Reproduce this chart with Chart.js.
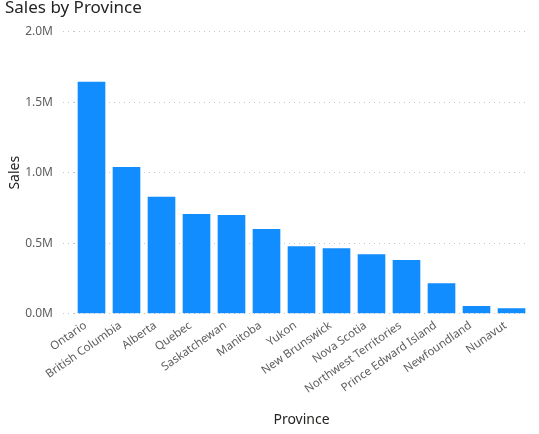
<!DOCTYPE html>
<html>
<head>
<meta charset="utf-8">
<script src="https://cdn.jsdelivr.net/npm/chart.js@4.4.0/dist/chart.umd.min.js"></script>
<style>
html,body{margin:0;padding:0;background:#fff;}
#wrap{width:539px;height:434px;}
</style>
</head>
<body>
<div id="wrap"><canvas id="c" width="539" height="434"></canvas></div>
<script>
const categories = ["Ontario","British Columbia","Alberta","Quebec","Saskatchewan","Manitoba","Yukon","New Brunswick","Nova Scotia","Northwest Territories","Prince Edward Island","Newfoundland","Nunavut"];
const sales = [1645000,1040000,830000,707000,700000,600000,478000,464000,421000,381000,216000,55000,38000];
const yTicks = [0,500000,1000000,1500000,2000000];

const FONT = "'Noto Sans', 'Open Sans', sans-serif";

new Chart(document.getElementById('c'), {
  type: 'bar',
  data: {
    labels: categories,
    datasets: [{
      label: 'Sales',
      data: sales,
      backgroundColor: '#118DFF',
      borderWidth: 0,
      categoryPercentage: 1.0,
      barPercentage: 0.79
    }]
  },
  options: {
    responsive: false,
    animation: false,
    layout: { padding: { left: 5, right: 10, top: 0, bottom: 0 } },
    plugins: {
      legend: { display: false },
      tooltip: { enabled: false },
      title: {
        display: true,
        text: 'Sales by Province',
        align: 'start',
        color: '#252423',
        font: { family: FONT, size: 17, weight: 'normal' },
        padding: { top: -2, bottom: 13.3 }
      }
    },
    scales: {
      x: {
        offset: true,
        grid: { display: false, drawTicks: false },
        border: { display: false },
        ticks: {
          color: '#605E5C',
          font: { family: FONT, size: 11.5 },
          minRotation: 35,
          maxRotation: 35,
          autoSkip: false,
          padding: 5,
          labelOffset: -6
        },
        title: {
          display: true,
          text: 'Province',
          color: '#252423',
          font: { family: FONT, size: 14 },
          padding: { top: 0, bottom: 6 }
        },
        afterFit: s => { s.height = 434 - 313.7; }
      },
      y: {
        min: 0,
        max: 2000000,
        afterBuildTicks: s => { s.ticks = yTicks.map(v => ({ value: v })); },
        grid: {
          color: '#C8C6C4',
          lineWidth: 1,
          tickLength: 11,
          tickColor: '#C8C6C4',
          tickBorderDash: [1, 4],
          tickBorderDashOffset: 0
        },
        border: { display: false, dash: [1, 4] },
        ticks: {
          color: '#605E5C',
          font: { family: FONT, size: 12 },
          padding: 10,
          callback: v => (v / 1e6).toFixed(1) + 'M'
        },
        title: {
          display: true,
          text: 'Sales',
          color: '#252423',
          font: { family: FONT, size: 14 },
          padding: { top: 2, bottom: 6 }
        },
        afterFit: s => { s.width = 69; }
      }
    }
  },
  plugins: [{
    id: 'dottedGrid',
    beforeDraw(chart) {
      chart.options.scales.y.grid.borderDash = [1, 4];
    }
  }]
});
</script>
</body>
</html>
